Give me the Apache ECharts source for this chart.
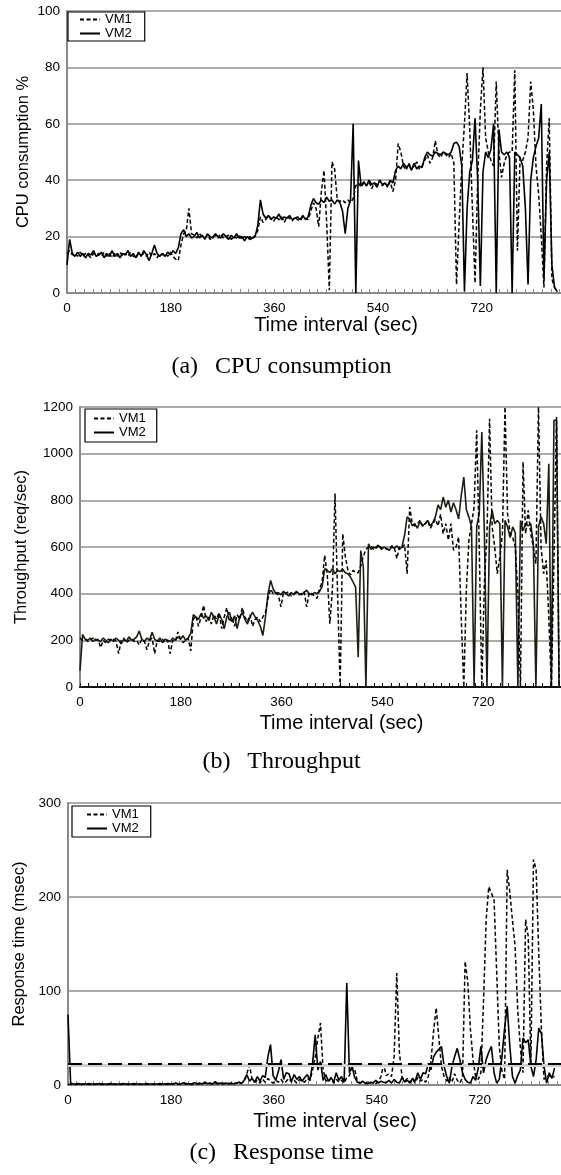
<!DOCTYPE html>
<html>
<head>
<meta charset="utf-8">
<script src="https://cdn.jsdelivr.net/npm/echarts@6/dist/echarts.min.js"></script>
<style>
html,body{margin:0;padding:0;background:#fff;overflow:hidden;width:561px;height:1175px}
#c{width:620px;height:1175px}
</style>
</head>
<body>
<div id="c"></div>
<script>
// ---- sampling grid (seconds) ----
const SAMPLE_STEP = 4.6;
const N_SAMPLES = 187;
const TIME = Array.from({length: N_SAMPLES}, (_, i) => +(i * SAMPLE_STEP).toFixed(1));
const X_MAX = 934;
const X_TICK = 180;
const X_LAST_LABEL = 720;

// ---- (a) CPU consumption % ----
const CPU_VM1 = [
14,15,13.5,14,13,14.5,13,14,13.5,12.5,14,13.5,
14,13,14.5,13,14,12.5,14,13,14.5,13,14,13,
14.5,13,12.5,14,13.5,14,13,14.5,13,14,12.5,14,
13.5,14,13,14.5,13,12,11.5,17,21,22,30,21,
20.5,19.5,21,20,19.5,20.5,19,20,20.5,19.5,21,19.5,
20,20.5,19,20,19.5,20.5,19,20,19.5,20,19,20.5,
22,27,25,26,27.5,26.5,25.5,27,26,27,25,27,
26.5,25.5,27,26,25.5,27,26.5,26,29,32,30,23.5,
36,43.5,25,1,46.5,44,33,32.5,33,32,33,32,
33.5,38,39,37.5,39,38,39.5,37,39,38.5,40,38,
39,37.5,39.5,36,40,53,50,45,43.5,46,44,45,
46.5,44,45,47,49,46,48,54,49,48,50,49,
48,49.5,46,3,25,45,60,78,58,30,3.5,40,
65,80,55,50,47,45,75,50,41,46,49,50,
50,79,15,48,47,50,55,75,65,45,35,20,
2,45,62,5,2,0.5,null
];
const CPU_VM2 = [
10,19,14,13,14.5,13,14,12.5,14,13.5,15,13,
13.5,14.5,12.5,14,13,15,13,14,12.5,14,13.5,15,
13,14,12.5,14.5,13,15,13.5,11.5,14,17,14,13,
14,13,14.5,13.5,15,14,16,21,22.5,20,21,19.5,
20,21.5,19.5,20.5,19,21,20,19.5,21,20,19.5,21,
20,19,20.5,19.5,21,19.5,20,18.5,20,19,19.5,20,
24,33,28,26.5,27.5,26,27,26.5,28,26,27,26.5,
27.5,26,26.5,27,26,27.5,26,27,31,33.5,32,31.5,
33,32,34,32.5,33,31.5,33,32,29,21,30,33,
60,0,47,38,39.5,38,40,38.5,39,37.5,40,38.5,
39,38,40,39,43.5,45,44,46,44.5,45.5,43.5,46,
44,45,44.5,48,50,49,48.5,50,49.5,49,50,49.5,
49,50,53,53.5,52,45,0.5,30,43,47,62,40,
2.5,43,50,48,51,60,0,58,50,49,50,48,
0,50,49,48,45,30,3,40,48,52,55,67,
5,40,50,10,2,0.5,null
];

// ---- (b) Throughput (req/sec) ----
const TPUT_VM1 = [
210,200,205,195,200,210,200,205,169,200,190,205,
200,205,195,143,200,210,190,200,205,195,200,180,
205,195,160,200,210,143,200,195,205,190,200,143,
200,195,236,205,190,200,210,155,290,305,260,300,
350,280,300,270,310,290,320,250,300,340,280,300,
260,310,290,340,300,280,310,260,290,300,280,300,
320,380,420,400,405,395,343,405,400,410,390,400,
405,395,400,410,343,405,400,390,380,420,450,564,
480,271,420,829,400,0,657,560,500,480,500,490,
490,520,560,590,600,605,590,600,610,595,600,590,
590,605,600,550,600,595,610,486,771,700,690,700,
714,690,700,714,680,700,720,690,740,657,700,629,
700,586,600,643,300,0,420,629,700,771,1100,600,
0,450,657,1150,686,600,486,557,657,1200,743,657,
640,600,400,0,964,657,757,657,600,529,1200,600,
486,543,300,0,543,1157,0
];
const TPUT_VM2 = [
70,225,205,200,210,195,205,200,195,210,200,190,
205,195,210,200,185,205,195,215,200,205,215,240,
205,195,210,200,235,205,195,210,190,205,200,195,
210,200,215,205,220,200,210,230,310,300,290,315,
295,305,285,320,300,270,310,290,250,300,320,280,
305,250,300,320,290,270,300,321,300,285,260,221,
300,400,457,420,400,405,395,410,400,390,405,395,
410,400,395,405,415,400,395,405,400,410,430,507,
500,490,507,485,500,495,505,490,485,471,450,428,
128,585,514,0,614,590,600,595,605,590,600,595,
585,600,595,605,590,600,650,729,720,690,700,680,
710,690,700,714,690,705,730,780,760,814,770,800,
750,790,760,720,820,900,760,728,686,0,686,743,
1093,657,0,686,757,700,714,700,0,714,686,640,
686,660,0,714,671,700,690,700,614,0,686,729,
700,614,957,0,1143,1143,0
];

// ---- (c) Response time (msec) ----
const RT_VM1 = [
1,0.5,1,0.5,1,0.5,1,1,0.5,1,0.5,1,
1,0.5,1,0.5,1,1,0.5,1,0.5,1,1,0.5,
1,0.5,1,1,0.5,1,0.5,1,1,0.5,1,0.5,
1,1,0.5,1,1.5,1,0.5,1,1,1.5,1,0.5,
1,1.5,1,1,2,1,1.5,1,1,2,1,1.5,
1,2,1,2,1.5,3,2,4,12,21,6,3,
5,2,6,3,7,4,2,5,3,6,2,4,
7,3,5,2,6,4,3,7,5,16,30,50,
66,16,5,3,7,2,6,3,5,2,8,10,
18,17,4,2,3,1.5,4,2,3,1.5,4,9,
22,10,12,9,30,119,35,9,4,7,3,6,
2,8,4,6,3,9,25,57,82,50,20,9,
4,8,3,12,5,2,8,131.5,110,60,27,9,
6,13,90,176,211,204,197,120,40,15,6,229,
205,175,147,80,40,13,176,158,20,240,229,140,
60,6,9,10,8,9,null
];
const RT_VM2 = [
75,2,1,1,1.5,1,1,1,1.5,1,1,1,
1.5,1,1,1,1.5,1,1,1,1,1.5,1,1,
1,1.5,1,1,1,1,1.5,1,1,1,1,1.5,
1,1,1.5,1,1,2,1,1,2.5,1,1.5,1,
2.5,1,2,1,3,1.5,2,1,3.5,1,2,1.5,
2,1,2,1,2,3,1.5,5,11,4,7,3,
9,4,10,8,30,43,10,5,14.5,27,6,13,
12,4,11,6,9,4,8,11,5,23,53.5,16,
25,5,11,4,8,3,13,5,9,3,108.5,13,
20,8,3,2,4,2,1.5,3,2,5,2,4,
3,2.5,5,2,6,3,2,8,3,5,2,7,
4,13,6,13,12,23,16,30,35,38,41,20,
9,2,20,30,39,27,13,6,3,2,9,5,
18,41,13,27,35,41,13,2,6,30,60,84,
41,9,2,10,16,50,45,48,20,9,27,60.6,
55,20,2,13,7,18,null
];
const RT_THRESHOLD = 22.6;
const RT_THRESHOLD_SHADOW = 21;

[CPU_VM1, CPU_VM2, TPUT_VM1, TPUT_VM2, RT_VM1, RT_VM2].forEach((a, k) => {
  if (a.length !== N_SAMPLES) throw new Error('series ' + k + ' length ' + a.length);
});

const pairs = arr => TIME.map((t, i) => [t, arr[i]]);

const FONT = 'Liberation Sans';
const GRIDS = [
  {left: 67, top: 11, width: 538, height: 282},
  {left: 80, top: 407, width: 523, height: 280},
  {left: 68, top: 803, width: 534, height: 282}
];
const Y_SPECS = [
  {name: 'CPU consumption %', max: 100, interval: 20, gap: 35},
  {name: 'Throughput (req/sec)', max: 1200, interval: 200, gap: 50},
  {name: 'Response time (msec)', max: 300, interval: 100, gap: 40}
];
const X_NAME_GAP = [22, 26, 26];
const X_LINE = ['#8a8a8a', '#111', '#8a8a8a'];

const xAxis = GRIDS.map((g, k) => ({
  type: 'value', gridIndex: k, min: 0, max: X_MAX, interval: X_TICK,
  name: 'Time interval (sec)', nameLocation: 'middle', nameGap: X_NAME_GAP[k],
  nameMoveOverlap: false,
  nameTextStyle: {fontFamily: FONT, fontSize: 20, color: '#000'},
  axisLine: {show: true, lineStyle: {color: X_LINE[k], width: 2}},
  axisTick: {show: true, inside: true, length: 4, lineStyle: {color: X_LINE[k], width: 1}},
  minorTick: {show: true, splitNumber: 12, length: 4, lineStyle: {color: X_LINE[k], width: 1}},
  axisLabel: {fontFamily: FONT, fontSize: 13.5, color: '#000', margin: 8,
    formatter: v => (v % X_TICK === 0 && v <= X_LAST_LABEL ? String(v) : '')},
  splitLine: {show: false}
}));
const yAxis = Y_SPECS.map((s, k) => ({
  type: 'value', gridIndex: k, min: 0, max: s.max, interval: s.interval,
  name: s.name, nameLocation: 'middle', nameGap: s.gap, nameMoveOverlap: false,
  nameTextStyle: {fontFamily: FONT, fontSize: 16.5, color: '#000'},
  axisLine: {show: true, lineStyle: {color: '#8a8a8a', width: 2}},
  axisTick: {show: false},
  axisLabel: {fontFamily: FONT, fontSize: 13.5, color: '#000', margin: 7, formatter: v => String(v)},
  splitLine: {show: true, lineStyle: {color: '#8f8f8f', width: 1.5}}
}));

const LEG = [
  {left: 68, top: 12, padding: [1, 13, 1, 11]},
  {left: 85, top: 409, padding: [3, 11, 3, 8]},
  {left: 72, top: 806, padding: [2, 12, 2, 14]}
];
const legend = LEG.map(p => ({
  left: p.left, top: p.top, padding: p.padding, orient: 'vertical', data: ['VM1', 'VM2'],
  itemWidth: 20, itemHeight: 12, itemGap: 1,
  borderColor: '#000', borderWidth: 1.2, borderRadius: 0, backgroundColor: '#fff',
  itemStyle: {opacity: 0},
  textStyle: {fontFamily: FONT, fontSize: 13, color: '#000'}
}));

const VM2_COLORS = ['#000', '#1d1d14', '#000'];
const DATA = [[CPU_VM1, CPU_VM2], [TPUT_VM1, TPUT_VM2], [RT_VM1, RT_VM2]];
const series = [];
DATA.forEach((pair, k) => {
  series.push({
    name: 'VM2', type: 'line', xAxisIndex: k, yAxisIndex: k, data: pairs(pair[1]),
    symbol: 'none', showSymbol: false, connectNulls: false, z: 3,
    lineStyle: {color: VM2_COLORS[k], width: 1.6, type: 'solid'},
    itemStyle: {color: VM2_COLORS[k]}
  });
  const vm1 = {
    name: 'VM1', type: 'line', xAxisIndex: k, yAxisIndex: k, data: pairs(pair[0]),
    symbol: 'none', showSymbol: false, connectNulls: false, z: 4,
    lineStyle: {color: '#000', width: 1.5, type: [4, 2.5]},
    itemStyle: {color: '#000'}
  };
  if (k === 2) {
    vm1.markLine = {
      silent: true, symbol: 'none', label: {show: false}, animation: false,
      data: [
        {yAxis: RT_THRESHOLD_SHADOW, lineStyle: {color: '#cfcfcf', type: 'solid', width: 3}},
        {yAxis: RT_THRESHOLD, lineStyle: {color: '#000', type: [14, 6], width: 2}}
      ]
    };
  }
  series.push(vm1);
});

const CAPTIONS = ['(a)\u2002\u2009CPU consumption', '(b)\u2002\u2009Throughput', '(c)\u2002\u2009Response time'];
const CAP_Y = [367, 761.5, 1152.5];
const graphic = CAPTIONS.map((t, k) => ({
  type: 'text', x: 281.5, y: CAP_Y[k], silent: true,
  style: {text: t, fill: '#000', font: '24px "Liberation Serif"',
    align: 'center', verticalAlign: 'middle', textAlign: 'center', textVerticalAlign: 'middle'}
}));

const chart = echarts.init(document.getElementById('c'), null, {renderer: 'canvas'});
chart.setOption({
  animation: false,
  backgroundColor: '#fff',
  legend, grid: GRIDS, xAxis, yAxis, series, graphic
});
</script>
</body>
</html>
